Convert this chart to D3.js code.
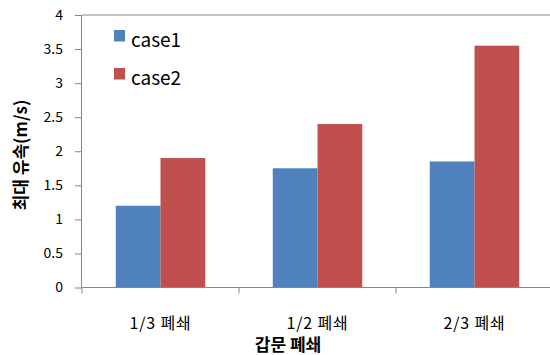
<!DOCTYPE html>
<html>
<head>
<meta charset="utf-8">
<script src="https://cdn.jsdelivr.net/npm/d3@7"></script>
<style>
  html, body { margin: 0; padding: 0; background: #fff; }
  svg { display: block; }
  text { font-family: "Noto Sans CJK KR", "Noto Sans", sans-serif; fill: #000; }
</style>
</head>
<body>
<svg id="chart" width="550" height="355"></svg>
<script>
// Categories (gate closure ratio) and maximum velocity per case
const categories = ["1/3 폐쇄", "1/2 폐쇄", "2/3 폐쇄"];
const seriesNames = ["case1", "case2"];
const case1 = [1.2, 1.75, 1.85];
const case2 = [1.9, 2.4, 3.55];
const yTicks = [0, 0.5, 1, 1.5, 2, 2.5, 3, 3.5, 4];
const colors = ["#4F81BD", "#C0504D"];

const svg = d3.select("#chart");
const plotLeft = 82, plotRight = 553, plotTop = 15, plotBottom = 287.5;
const axisColor = "#868686";

const y = d3.scaleLinear().domain([0, 4]).range([plotBottom, plotTop]);
const x0 = d3.scaleBand().domain(categories).range([plotLeft, plotRight])
  .paddingInner(0.43).paddingOuter(0.215);
const x1 = d3.scaleBand().domain(seriesNames).range([0, x0.bandwidth()]);

const rows = categories.map((c, i) => ({ cat: c, values: [case1[i], case2[i]] }));

// top gridline at the maximum value
svg.append("line")
  .attr("x1", plotLeft).attr("x2", plotRight)
  .attr("y1", y(4)).attr("y2", y(4))
  .attr("stroke", axisColor).attr("stroke-width", 1);

// bars
const groups = svg.append("g").selectAll("g").data(rows).join("g")
  .attr("transform", d => `translate(${x0(d.cat)},0)`);
groups.selectAll("rect")
  .data(d => d.values.map((v, k) => ({ name: seriesNames[k], v, k })))
  .join("rect")
  .attr("x", d => x1(d.name))
  .attr("width", x1.bandwidth())
  .attr("y", d => y(d.v))
  .attr("height", d => y(0) - y(d.v))
  .attr("fill", d => colors[d.k]);

// y axis
const yAxis = svg.append("g").attr("transform", `translate(${plotLeft},0)`)
  .call(d3.axisLeft(y).tickValues(yTicks).tickFormat(d3.format("")).tickSize(7).tickPadding(12));
yAxis.select(".domain").attr("stroke", axisColor).attr("d", `M-0.5,${plotTop}V${plotBottom}`);
yAxis.selectAll(".tick line").attr("stroke", axisColor);
yAxis.selectAll(".tick text").attr("font-size", 14).attr("fill", "#222")
  .style("font-family", "'Noto Sans CJK KR', sans-serif");

// x axis line with ticks at category boundaries
svg.append("line")
  .attr("x1", plotLeft).attr("x2", plotRight)
  .attr("y1", plotBottom).attr("y2", plotBottom)
  .attr("stroke", axisColor);
const boundaries = d3.range(categories.length + 1).map(i => plotLeft + i * x0.step());
svg.append("g").selectAll("line").data(boundaries).join("line")
  .attr("x1", d => d).attr("x2", d => d)
  .attr("y1", plotBottom).attr("y2", plotBottom + 6)
  .attr("stroke", axisColor);

// category labels
svg.append("g").selectAll("text").data(categories).join("text")
  .attr("x", d => x0(d) + x0.bandwidth() / 2)
  .attr("y", 329)
  .attr("text-anchor", "middle")
  .attr("font-size", 16)
  .attr("letter-spacing", 0.8)
  .attr("fill", "#222")
  .text(d => d);

// axis titles
svg.append("text")
  .attr("x", 288).attr("y", 351)
  .attr("text-anchor", "middle")
  .attr("font-size", 17).attr("font-weight", "bold")
  .text("갑문 폐쇄");
svg.append("text")
  .attr("transform", "translate(27,155) rotate(-90)")
  .attr("text-anchor", "middle")
  .attr("font-size", 17).attr("font-weight", "bold")
  .text("최대 유속(m/s)");

// legend
const legend = svg.append("g").selectAll("g").data(seriesNames).join("g")
  .attr("transform", (d, i) => `translate(114,${30 + i * 38})`);
legend.append("rect")
  .attr("width", 11).attr("height", 11.5)
  .attr("fill", (d, i) => colors[i]);
legend.append("text")
  .attr("x", 17).attr("y", 16.5)
  .attr("font-size", 19)
  .attr("fill", "#222")
  .text(d => d);
</script>
</body>
</html>
